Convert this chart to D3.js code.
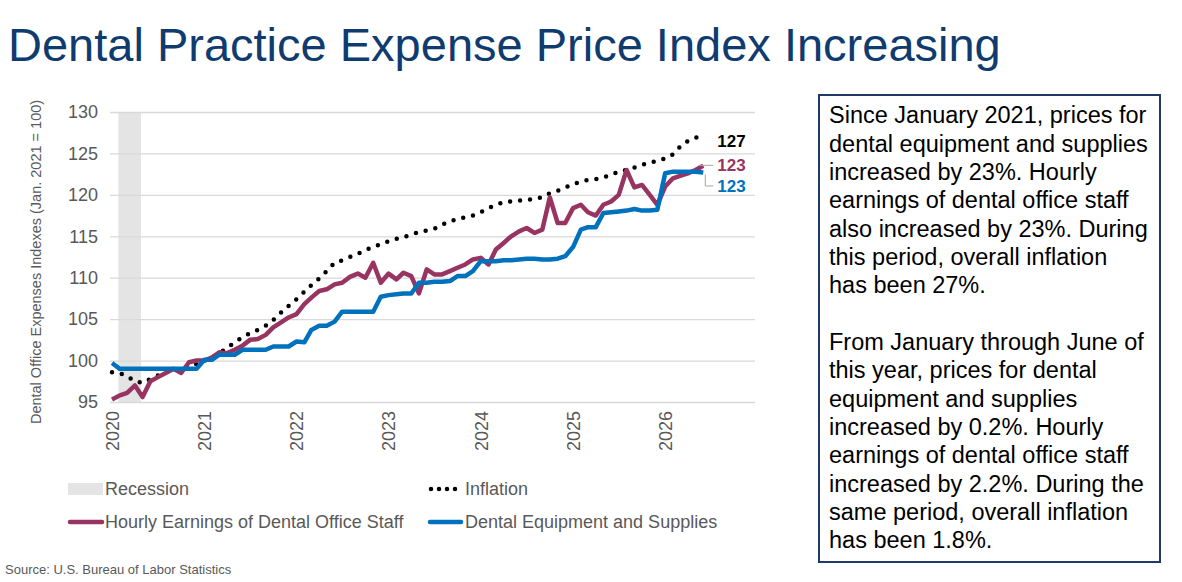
<!DOCTYPE html>
<html>
<head>
<meta charset="utf-8">
<script src="https://cdn.jsdelivr.net/npm/d3@7"></script>
<style>
  html, body { margin: 0; padding: 0; background: #ffffff; }
  svg { display: block; font-family: "Liberation Sans", Arial, Helvetica, sans-serif; }
</style>
</head>
<body>
<svg id="chart" width="1182" height="582"></svg>
<script>
// ---------------- DATA ----------------
const startMonth = "2020-01";
const endMonth = "2026-06";
const yTicks = [95, 100, 105, 110, 115, 120, 125, 130];
const xTickYears = ["2020", "2021", "2022", "2023", "2024", "2025", "2026"];
const recession = ["2020-02", "2020-05"];

// Inflation (CPI, Jan 2021 = 100), monthly Jan 2020 .. Jun 2026
const inflation = [
  98.6, 98.5, 98.1, 97.5, 97.3, 97.8, 98.2, 98.6, 98.8, 99.1, 99.3, 99.6,
  100.0, 100.4, 100.9, 101.5, 102.2, 102.8, 103.3, 103.7, 104.2, 104.9, 105.8, 106.6,
  107.4, 108.3, 109.1, 109.9, 110.8, 111.8, 112.1, 112.5, 112.9, 113.3, 113.8, 114.0,
  114.4, 114.7, 114.9, 115.2, 115.5, 115.7, 115.9, 116.4, 116.8, 117.1, 117.3, 117.5,
  117.9, 118.4, 118.8, 119.1, 119.2, 119.3, 119.4, 119.5, 119.7, 120.2, 120.5, 120.9,
  121.3, 121.6, 121.8, 121.9, 122.1, 122.4, 122.8, 123.0, 123.3, 123.6, 123.9, 124.1,
  124.4, 124.9, 125.8, 126.5, 126.9, 127.0
];
// Hourly Earnings of Dental Office Staff
const earnings = [
  95.3, 95.8, 96.1, 97.0, 95.6, 97.5, 98.0, 98.5, 99.0, 98.5, 99.8, 100.0,
  100.0, 100.4, 101.0, 100.9, 101.3, 101.8, 102.5, 102.6, 103.1, 104.0, 104.6, 105.2,
  105.6, 106.8, 107.6, 108.4, 108.6, 109.2, 109.4, 110.1, 110.5, 110.0, 111.8, 109.4,
  110.5, 109.8, 110.6, 110.2, 108.1, 111.0, 110.4, 110.4, 110.8, 111.2, 111.6, 112.2,
  112.4, 111.6, 113.4, 114.2, 115.0, 115.6, 116.0, 115.4, 115.8, 119.7, 116.6, 116.6,
  118.4, 118.8, 117.9, 117.5, 118.8, 119.2, 120.0, 123.0, 120.9, 121.2, 120.0, 118.8,
  121.0, 122.0, 122.3, 122.6, 123.0, 123.5
];
// Dental Equipment and Supplies
const equipment = [
  99.7, 99.0, 99.0, 99.0, 99.0, 99.0, 99.0, 99.0, 99.0, 99.0, 99.0, 99.0,
  100.1, 100.1, 100.7, 100.7, 100.7, 101.3, 101.3, 101.3, 101.3, 101.7, 101.7, 101.7,
  102.3, 102.2, 103.7, 104.2, 104.2, 104.7, 105.9, 105.9, 105.9, 105.9, 105.9, 107.7,
  107.9, 108.0, 108.1, 108.1, 109.4, 109.4, 109.5, 109.5, 109.6, 110.2, 110.2, 110.8,
  112.0, 112.0, 112.0, 112.1, 112.1, 112.2, 112.3, 112.3, 112.2, 112.2, 112.3, 112.6,
  113.7, 115.8, 116.1, 116.1, 117.8, 117.9, 118.0, 118.1, 118.3, 118.1, 118.1, 118.2,
  122.6, 122.8, 122.8, 122.8, 122.8, 122.7
];
const endLabels = ["127", "123", "123"];

const titleText = "Dental Practice Expense Price Index Increasing";
const yAxisTitle = "Dental Office Expenses Indexes (Jan. 2021 = 100)";
const legendLabels = ["Recession", "Inflation", "Hourly Earnings of Dental Office Staff", "Dental Equipment and Supplies"];
const sourceText = "Source: U.S. Bureau of Labor Statistics";
const noteLines = [
  "Since January 2021, prices for",
  "dental equipment and supplies",
  "increased by 23%. Hourly",
  "earnings of dental office staff",
  "also increased by 23%. During",
  "this period, overall inflation",
  "has been 27%.",
  "",
  "From January through June of",
  "this year, prices for dental",
  "equipment and supplies",
  "increased by 0.2%. Hourly",
  "earnings of dental office staff",
  "increased by 2.2%. During the",
  "same period, overall inflation",
  "has been 1.8%."
];

// ---------------- STYLE ----------------
const C = {
  title: "#0f3b6f",
  text: "#595959",
  grid: "#d9d9d9",
  recession: "#e4e4e4",
  magenta: "#983462",
  blue: "#0071bc",
  dots: "#000000",
  leader: "#a6a6a6",
  box: "#1f3a68"
};

const parseMonth = d3.timeParse("%Y-%m");
const months = d3.timeMonth.range(parseMonth(startMonth), d3.timeMonth.offset(parseMonth(endMonth), 1));

const svg = d3.select("#chart");

const x = d3.scaleTime()
  .domain([new Date(2019, 11, 24), new Date(2026, 11, 23)])
  .range([110, 755]);
const y = d3.scaleLinear().domain([95, 130]).range([402, 112]);

// Title
svg.append("text")
  .attr("x", 8).attr("y", 61)
  .attr("font-size", 47)
  .attr("fill", C.title)
  .text(titleText);

// Recession band
svg.append("rect")
  .attr("x", x(parseMonth(recession[0])) - 1.5)
  .attr("y", y(130))
  .attr("width", x(parseMonth(recession[1])) - x(parseMonth(recession[0])))
  .attr("height", y(95) - y(130))
  .attr("fill", C.recession);

// Gridlines
const yAxis = d3.axisLeft(y).tickValues(yTicks).tickSize(-(755 - 110)).tickPadding(12);
const gy = svg.append("g").attr("transform", "translate(110,0)").call(yAxis);
gy.select(".domain").remove();
gy.selectAll(".tick line").attr("stroke", C.grid).attr("stroke-width", 1.3);
gy.selectAll(".tick text")
  .attr("fill", C.text).attr("font-size", 18)
  .attr("font-family", "'Liberation Sans', Arial, sans-serif");

// X axis labels (rotated)
const xTickDates = xTickYears.map(yr => parseMonth(yr + "-01"));
const xAxis = d3.axisBottom(x).tickValues(xTickDates).tickSize(0).tickFormat(d3.timeFormat("%Y"));
const gx = svg.append("g").attr("transform", `translate(0,${y(95)})`).call(xAxis);
gx.select(".domain").remove();
gx.selectAll(".tick text")
  .attr("fill", C.text).attr("font-size", 18)
  .attr("font-family", "'Liberation Sans', Arial, sans-serif")
  .attr("transform", "rotate(-90)")
  .attr("text-anchor", "end")
  .attr("x", -9).attr("y", 0).attr("dy", "0.35em");

// Y axis title
svg.append("text")
  .attr("transform", "translate(41,262) rotate(-90)")
  .attr("text-anchor", "middle")
  .attr("font-size", 14.5)
  .attr("fill", C.text)
  .text(yAxisTitle);

// Lines
const line = d3.line().x((d, i) => x(months[i])).y(d => y(d));

svg.append("path").datum(inflation)
  .attr("d", line)
  .attr("fill", "none")
  .attr("stroke", C.dots)
  .attr("stroke-width", 4.5)
  .attr("stroke-linecap", "round")
  .attr("stroke-dasharray", "0 10");

svg.append("path").datum(earnings)
  .attr("d", line)
  .attr("fill", "none")
  .attr("stroke", C.magenta)
  .attr("stroke-width", 4.5)
  .attr("stroke-linejoin", "round");

svg.append("path").datum(equipment)
  .attr("d", line)
  .attr("fill", "none")
  .attr("stroke", C.blue)
  .attr("stroke-width", 4.5)
  .attr("stroke-linejoin", "round");

// End labels with leader lines
const lastDate = months[months.length - 1];
const xe = x(lastDate);
const lx = xe + 14;
const lastInf = inflation[inflation.length - 1];
const lastEarn = earnings[earnings.length - 1];
const lastEq = equipment[equipment.length - 1];
const labelSize = 17;

svg.append("text")
  .attr("x", lx).attr("y", y(lastInf) + 4).attr("dy", "0.35em")
  .attr("font-size", labelSize).attr("font-weight", "bold").attr("fill", "#000")
  .text(endLabels[0]);

const earnLabelY = y(lastEarn) - 0.5;
svg.append("line")
  .attr("x1", xe - 5).attr("x2", lx - 4)
  .attr("y1", earnLabelY).attr("y2", earnLabelY)
  .attr("stroke", C.leader).attr("stroke-width", 1);
svg.append("text")
  .attr("x", lx).attr("y", earnLabelY).attr("dy", "0.35em")
  .attr("font-size", labelSize).attr("font-weight", "bold").attr("fill", C.magenta)
  .text(endLabels[1]);

const eqLabelY = y(lastEq) + 13.5;
svg.append("path")
  .attr("d", `M${xe + 2},${y(lastEq) + 2} L${xe + 2},${eqLabelY} L${lx - 4},${eqLabelY}`)
  .attr("fill", "none").attr("stroke", C.leader).attr("stroke-width", 1);
svg.append("text")
  .attr("x", lx).attr("y", eqLabelY).attr("dy", "0.35em")
  .attr("font-size", labelSize).attr("font-weight", "bold").attr("fill", C.blue)
  .text(endLabels[2]);

// Legend
const lg = svg.append("g").attr("font-size", 18).attr("fill", C.text);
lg.append("rect").attr("x", 68).attr("y", 483).attr("width", 35).attr("height", 12).attr("fill", C.recession);
lg.append("text").attr("x", 105).attr("y", 489).attr("dy", "0.35em").text(legendLabels[0]);

lg.append("line").attr("x1", 431).attr("x2", 461).attr("y1", 489).attr("y2", 489)
  .attr("stroke", C.dots).attr("stroke-width", 4.5).attr("stroke-linecap", "round")
  .attr("stroke-dasharray", "0 8");
lg.append("text").attr("x", 465).attr("y", 489).attr("dy", "0.35em").text(legendLabels[1]);

lg.append("line").attr("x1", 70).attr("x2", 102).attr("y1", 522).attr("y2", 522)
  .attr("stroke", C.magenta).attr("stroke-width", 4.5).attr("stroke-linecap", "round");
lg.append("text").attr("x", 105).attr("y", 522).attr("dy", "0.35em").text(legendLabels[2]);

lg.append("line").attr("x1", 430).attr("x2", 461).attr("y1", 522).attr("y2", 522)
  .attr("stroke", C.blue).attr("stroke-width", 4.5).attr("stroke-linecap", "round");
lg.append("text").attr("x", 465).attr("y", 522).attr("dy", "0.35em").text(legendLabels[3]);

// Source
svg.append("text")
  .attr("x", 5).attr("y", 569).attr("dy", "0.35em")
  .attr("font-size", 13).attr("fill", C.text)
  .text(sourceText);

// Note box
svg.append("rect")
  .attr("x", 819).attr("y", 95).attr("width", 341).attr("height", 467)
  .attr("fill", "#fff").attr("stroke", C.box).attr("stroke-width", 2);
const nt = svg.append("text").attr("font-size", 23.5).attr("fill", "#000");
noteLines.forEach((t, i) => {
  nt.append("tspan").attr("x", 829).attr("y", 115 + i * 28.33).attr("dy", "0.35em").text(t);
});
</script>
</body>
</html>
